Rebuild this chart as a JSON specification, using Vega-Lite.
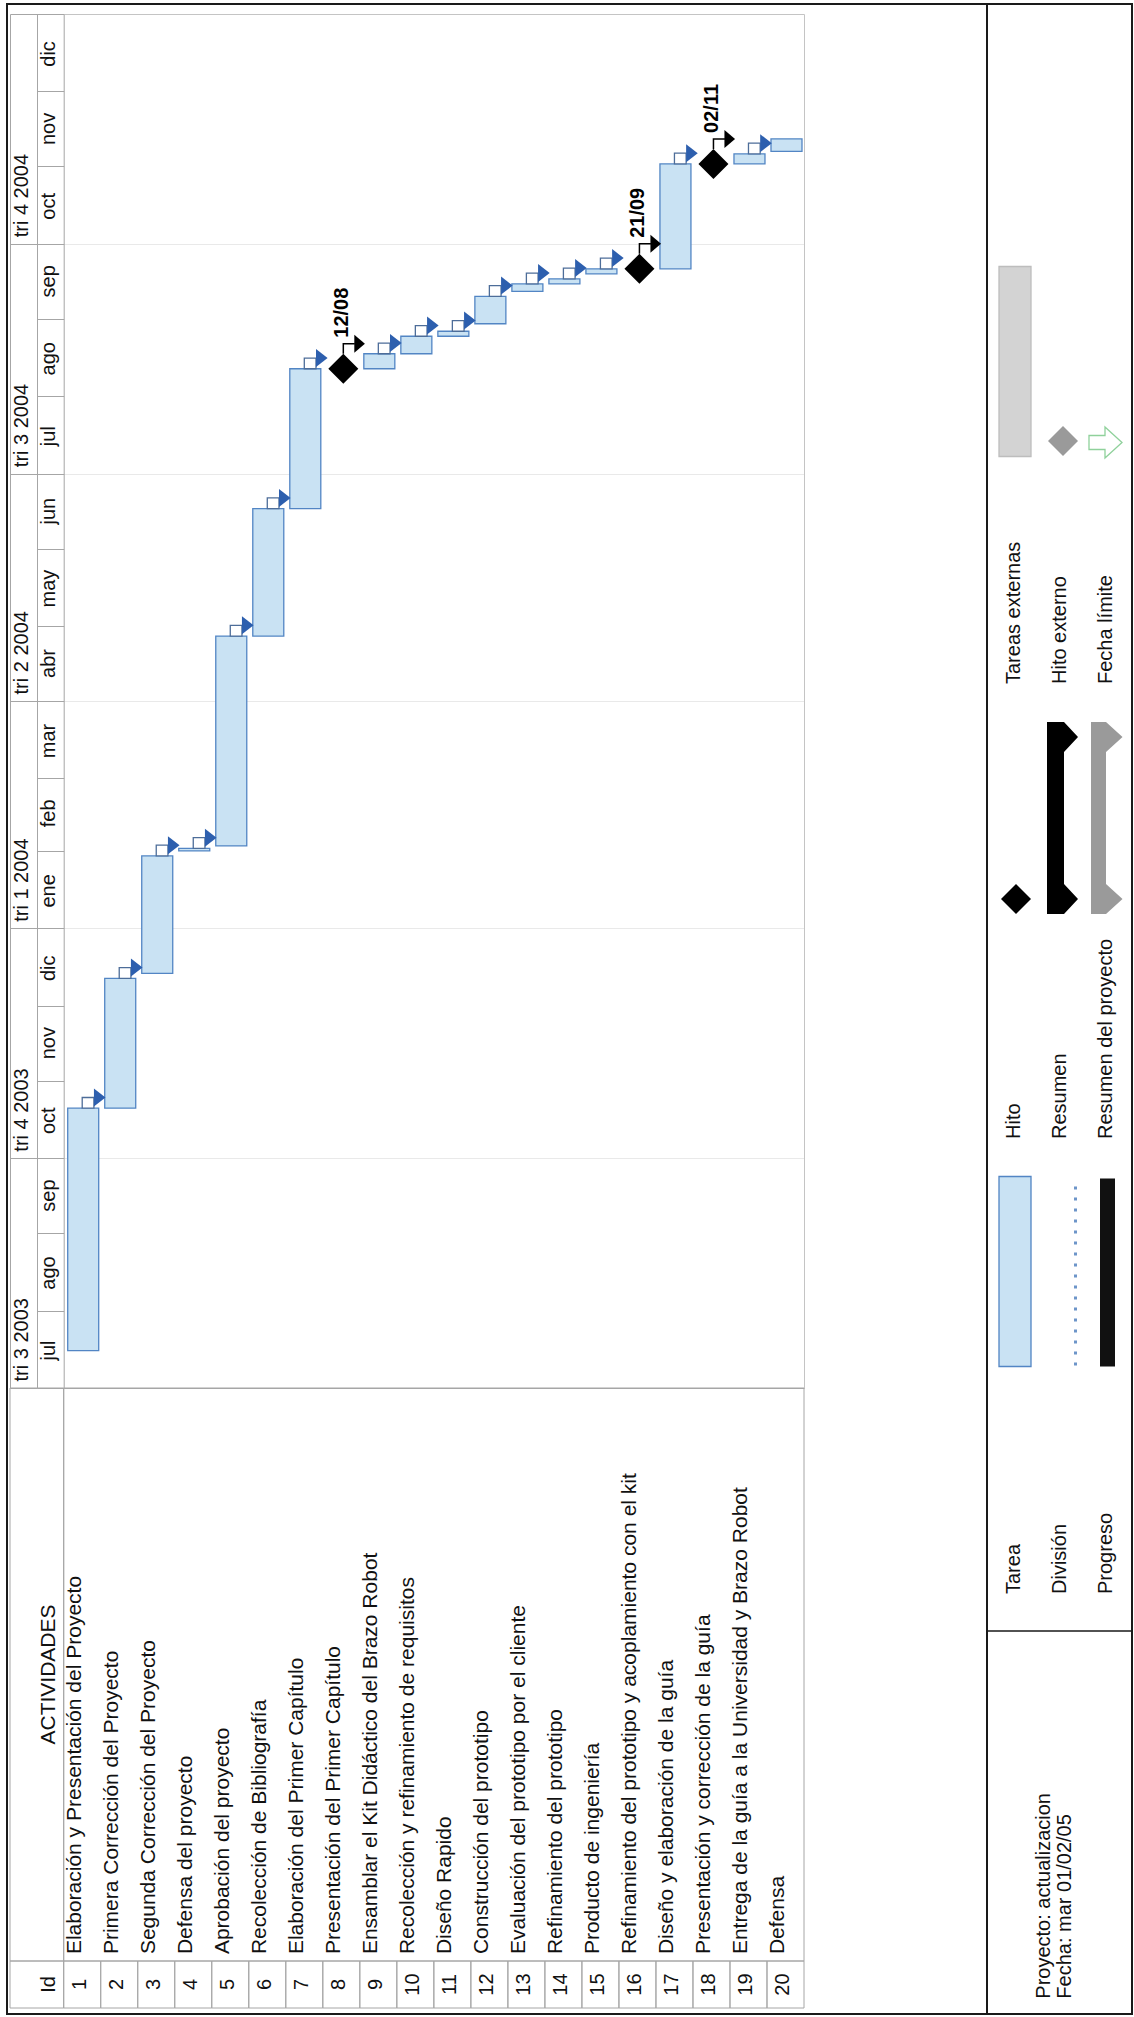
{
  "$schema": "https://vega.github.io/schema/vega-lite/v6.json",
  "padding": {"left": 6, "top": 3, "right": 3, "bottom": 4},
  "background": "white",
  "bounds": "flush",
  "spacing": 0,
  "config": {"font": "Liberation Sans"},
  "datasets": {
    "tareas": [
      {"id": 1, "nombre": "Elaboración y Presentación del Proyecto", "inicio": "2003-07-16", "fin": "2003-10-21", "tipo": "tarea"},
      {"id": 2, "nombre": "Primera Corrección del Proyecto", "inicio": "2003-10-21", "fin": "2003-12-12", "tipo": "tarea"},
      {"id": 3, "nombre": "Segunda Corrección del Proyecto", "inicio": "2003-12-14", "fin": "2004-01-30", "tipo": "tarea"},
      {"id": 4, "nombre": "Defensa del proyecto", "inicio": "2004-02-01", "fin": "2004-02-02", "tipo": "tarea"},
      {"id": 5, "nombre": "Aprobación del proyecto", "inicio": "2004-02-03", "fin": "2004-04-27", "tipo": "tarea"},
      {"id": 6, "nombre": "Recolección de Bibliografía", "inicio": "2004-04-27", "fin": "2004-06-17", "tipo": "tarea"},
      {"id": 7, "nombre": "Elaboración  del Primer Capítulo", "inicio": "2004-06-17", "fin": "2004-08-12", "tipo": "tarea"},
      {"id": 8, "nombre": "Presentación del Primer Capítulo", "inicio": "2004-08-12", "fin": "2004-08-12", "tipo": "hito"},
      {"id": 9, "nombre": "Ensamblar el Kit Didáctico del Brazo Robot", "inicio": "2004-08-12", "fin": "2004-08-18", "tipo": "tarea"},
      {"id": 10, "nombre": "Recolección y refinamiento de requisitos", "inicio": "2004-08-18", "fin": "2004-08-25", "tipo": "tarea"},
      {"id": 11, "nombre": "Diseño Rapido", "inicio": "2004-08-25", "fin": "2004-08-27", "tipo": "tarea"},
      {"id": 12, "nombre": "Construcción del prototipo", "inicio": "2004-08-30", "fin": "2004-09-10", "tipo": "tarea"},
      {"id": 13, "nombre": "Evaluación del prototipo por el cliente", "inicio": "2004-09-12", "fin": "2004-09-15", "tipo": "tarea"},
      {"id": 14, "nombre": "Refinamiento del prototipo", "inicio": "2004-09-15", "fin": "2004-09-17", "tipo": "tarea"},
      {"id": 15, "nombre": "Producto de ingeniería", "inicio": "2004-09-19", "fin": "2004-09-21", "tipo": "tarea"},
      {"id": 16, "nombre": "Refinamiento del prototipo y acoplamiento con el kit", "inicio": "2004-09-21", "fin": "2004-09-21", "tipo": "hito"},
      {"id": 17, "nombre": "Diseño y elaboración de la guía", "inicio": "2004-09-21", "fin": "2004-11-02", "tipo": "tarea"},
      {"id": 18, "nombre": "Presentación  y corrección de la guía", "inicio": "2004-11-02", "fin": "2004-11-02", "tipo": "hito"},
      {"id": 19, "nombre": "Entrega de la guía a la Universidad y Brazo Robot", "inicio": "2004-11-02", "fin": "2004-11-06", "tipo": "tarea"},
      {"id": 20, "nombre": "Defensa", "inicio": "2004-11-07", "fin": "2004-11-12", "tipo": "tarea"}
    ],
    "encabezados": [
      {"seccion": "ACTIVIDADES", "texto": "ACTIVIDADES"},
      {"seccion": "Id", "texto": "Id"}
    ],
    "leyenda": [
      {"grupo": 1, "col": 1, "etiqueta": "Tarea", "simbolo": "tarea"},
      {"grupo": 1, "col": 2, "etiqueta": "División", "simbolo": "division"},
      {"grupo": 1, "col": 3, "etiqueta": "Progreso", "simbolo": "progreso"},
      {"grupo": 2, "col": 1, "etiqueta": "Hito", "simbolo": "hito"},
      {"grupo": 2, "col": 2, "etiqueta": "Resumen", "simbolo": "resumen"},
      {"grupo": 2, "col": 3, "etiqueta": "Resumen del proyecto", "simbolo": "resumen_proyecto"},
      {"grupo": 3, "col": 1, "etiqueta": "Tareas externas", "simbolo": "tareas_externas"},
      {"grupo": 3, "col": 2, "etiqueta": "Hito externo", "simbolo": "hito_externo"},
      {"grupo": 3, "col": 3, "etiqueta": "Fecha límite", "simbolo": "fecha_limite"}
    ],
    "pie": [
      {"linea": 1, "texto": "Proyecto: actualizacion"},
      {"linea": 2, "texto": "Fecha: mar 01/02/05"}
    ]
  },
  "hconcat": [
    {
      "width": 980,
      "height": 2010,
      "view": {"stroke": "#1a1a1a", "strokeWidth": 2},
      "resolve": {"scale": {"x": "independent", "y": "independent"}},
      "layer": [
        {
          "data": {"name": "tareas"},
          "mark": {"type": "rect", "filled": false, "stroke": "#a6a6a6", "strokeWidth": 1},
          "encoding": {
            "x": {"field": "id", "type": "ordinal", "axis": null, "scale": {"type": "band", "domain": [1,2,3,4,5,6,7,8,9,10,11,12,13,14,15,16,17,18,19,20], "range": [56.7, 797], "paddingInner": 0, "paddingOuter": 0}},
            "y": {"datum": "Id", "type": "nominal", "axis": null, "scale": {"type": "band", "domain": ["Id"], "range": [1957, 2004], "paddingInner": 0, "paddingOuter": 0}}
          }
        },
        {
          "data": {"name": "encabezados"},
          "transform": [{"filter": "datum.seccion == 'ACTIVIDADES'"}],
          "mark": {"type": "rect", "filled": false, "stroke": "#a6a6a6", "strokeWidth": 1},
          "encoding": {
            "x": {"datum": "encabezado", "type": "nominal", "axis": null, "scale": {"type": "band", "domain": ["encabezado"], "range": [3, 56.7], "paddingInner": 0, "paddingOuter": 0}},
            "y": {"field": "seccion", "type": "nominal", "axis": null, "scale": {"type": "band", "domain": ["ACTIVIDADES"], "range": [1384, 1957], "paddingInner": 0, "paddingOuter": 0}}
          }
        },
        {
          "data": {"name": "encabezados"},
          "transform": [{"filter": "datum.seccion == 'ACTIVIDADES'"}],
          "mark": {"type": "rect", "filled": false, "stroke": "#a6a6a6", "strokeWidth": 1},
          "encoding": {
            "x": {"datum": "tareas", "type": "nominal", "axis": null, "scale": {"type": "band", "domain": ["tareas"], "range": [56.7, 797], "paddingInner": 0, "paddingOuter": 0}},
            "y": {"field": "seccion", "type": "nominal", "axis": null, "scale": {"type": "band", "domain": ["ACTIVIDADES"], "range": [1384, 1957], "paddingInner": 0, "paddingOuter": 0}}
          }
        },
        {
          "data": {"name": "encabezados"},
          "transform": [{"filter": "datum.seccion == 'Id'"}],
          "mark": {"type": "rect", "filled": false, "stroke": "#a6a6a6", "strokeWidth": 1},
          "encoding": {
            "x": {"datum": "encabezado", "type": "nominal", "axis": null, "scale": {"type": "band", "domain": ["encabezado"], "range": [3, 56.7], "paddingInner": 0, "paddingOuter": 0}},
            "y": {"field": "seccion", "type": "nominal", "axis": null, "scale": {"type": "band", "domain": ["Id"], "range": [1957, 2004], "paddingInner": 0, "paddingOuter": 0}}
          }
        },
        {
          "data": {"name": "encabezados"},
          "transform": [{"filter": "datum.seccion == 'ACTIVIDADES'"}],
          "mark": {"type": "text", "angle": 270, "align": "center", "baseline": "middle", "fontSize": 21, "color": "#111"},
          "encoding": {
            "x": {"datum": "encabezado", "type": "nominal", "bandPosition": 0.72, "axis": null, "scale": {"type": "band", "domain": ["encabezado"], "range": [3, 56.7], "paddingInner": 0, "paddingOuter": 0}},
            "y": {"field": "seccion", "type": "nominal", "bandPosition": 0.5, "axis": null, "scale": {"type": "band", "domain": ["ACTIVIDADES"], "range": [1384, 1957], "paddingInner": 0, "paddingOuter": 0}},
            "text": {"field": "texto"}
          }
        },
        {
          "data": {"name": "encabezados"},
          "transform": [{"filter": "datum.seccion == 'Id'"}],
          "mark": {"type": "text", "angle": 270, "align": "center", "baseline": "middle", "fontSize": 20, "color": "#111"},
          "encoding": {
            "x": {"datum": "encabezado", "type": "nominal", "bandPosition": 0.72, "axis": null, "scale": {"type": "band", "domain": ["encabezado"], "range": [3, 56.7], "paddingInner": 0, "paddingOuter": 0}},
            "y": {"field": "seccion", "type": "nominal", "bandPosition": 0.5, "axis": null, "scale": {"type": "band", "domain": ["Id"], "range": [1957, 2004], "paddingInner": 0, "paddingOuter": 0}},
            "text": {"field": "texto"}
          }
        },
        {
          "data": {"name": "tareas"},
          "mark": {"type": "text", "angle": 270, "align": "left", "baseline": "middle", "fontSize": 21, "color": "#111"},
          "encoding": {
            "x": {"field": "id", "type": "ordinal", "bandPosition": 0.31, "axis": null, "scale": {"type": "band", "domain": [1,2,3,4,5,6,7,8,9,10,11,12,13,14,15,16,17,18,19,20], "range": [56.7, 797], "paddingInner": 0, "paddingOuter": 0}},
            "y": {"datum": "ACTIVIDADES", "type": "nominal", "bandPosition": 0.988, "axis": null, "scale": {"type": "band", "domain": ["ACTIVIDADES"], "range": [1384, 1957], "paddingInner": 0, "paddingOuter": 0}},
            "text": {"field": "nombre"}
          }
        },
        {
          "data": {"name": "tareas"},
          "mark": {"type": "text", "angle": 270, "align": "center", "baseline": "middle", "fontSize": 20, "color": "#111"},
          "encoding": {
            "x": {"field": "id", "type": "ordinal", "bandPosition": 0.43, "axis": null, "scale": {"type": "band", "domain": [1,2,3,4,5,6,7,8,9,10,11,12,13,14,15,16,17,18,19,20], "range": [56.7, 797], "paddingInner": 0, "paddingOuter": 0}},
            "y": {"datum": "Id", "type": "nominal", "bandPosition": 0.5, "axis": null, "scale": {"type": "band", "domain": ["Id"], "range": [1957, 2004], "paddingInner": 0, "paddingOuter": 0}},
            "text": {"field": "id"}
          }
        },
        {
          "data": {"name": "tareas"},
          "transform": [{"filter": "datum.tipo == 'tarea'"}],
          "mark": {"type": "bar", "width": 31, "xOffset": 1, "fill": "#c9e2f3", "stroke": "#5285c4", "strokeWidth": 1.3},
          "encoding": {
            "x": {"field": "id", "type": "ordinal",
              "scale": {"type": "band", "domain": [1,2,3,4,5,6,7,8,9,10,11,12,13,14,15,16,17,18,19,20], "range": [56.7, 797], "paddingInner": 0, "paddingOuter": 0},
              "axis": {"orient": "top", "offset": -10, "title": null, "domain": true, "domainColor": "#c4c4c4", "domainWidth": 1, "ticks": false, "labels": false, "grid": false}},
            "y": {"field": "inicio", "type": "temporal",
              "scale": {"type": "utc", "nice": false, "domain": [{"year": 2003, "month": 7, "date": 1, "utc": true}, {"year": 2005, "month": 1, "date": 1, "utc": true}], "range": [1384, 10]},
              "axis": {"orient": "left", "offset": -56.7, "title": null, "grid": false,
                "values": [
                  {"year": 2003, "month": 7, "date": 1, "utc": true}, {"year": 2003, "month": 8, "date": 1, "utc": true}, {"year": 2003, "month": 9, "date": 1, "utc": true},
                  {"year": 2003, "month": 10, "date": 1, "utc": true}, {"year": 2003, "month": 11, "date": 1, "utc": true}, {"year": 2003, "month": 12, "date": 1, "utc": true},
                  {"year": 2004, "month": 1, "date": 1, "utc": true}, {"year": 2004, "month": 2, "date": 1, "utc": true}, {"year": 2004, "month": 3, "date": 1, "utc": true},
                  {"year": 2004, "month": 4, "date": 1, "utc": true}, {"year": 2004, "month": 5, "date": 1, "utc": true}, {"year": 2004, "month": 6, "date": 1, "utc": true},
                  {"year": 2004, "month": 7, "date": 1, "utc": true}, {"year": 2004, "month": 8, "date": 1, "utc": true}, {"year": 2004, "month": 9, "date": 1, "utc": true},
                  {"year": 2004, "month": 10, "date": 1, "utc": true}, {"year": 2004, "month": 11, "date": 1, "utc": true}, {"year": 2004, "month": 12, "date": 1, "utc": true}
                ],
                "tickSize": 26.7, "tickColor": "#a6a6a6", "tickWidth": 1,
                "domain": true, "domainColor": "#a6a6a6", "domainWidth": 1,
                "labelExpr": "['ene','feb','mar','abr','may','jun','jul','ago','sep','oct','nov','dic'][utcmonth(datum.value)]",
                "labelAngle": 270, "labelAlign": "center", "labelBaseline": "middle", "labelOffset": -38, "labelPadding": -11.5,
                "labelFontSize": 20, "labelFont": "Liberation Sans", "labelColor": "#111", "labelOverlap": false, "labelBound": false, "labelFlush": false}},
            "y2": {"field": "fin"}
          }
        },
        {
          "data": {"name": "tareas"},
          "transform": [{"filter": "datum.id < 20 && datum.tipo == 'tarea'"}],
          "mark": {"type": "point", "shape": "M0,0V-10.7H11.7V0Z", "size": 4, "filled": true, "fill": "#ffffff", "stroke": "#4d6d99", "strokeWidth": 1.3, "opacity": 1},
          "encoding": {
            "x": {"field": "id", "type": "ordinal", "axis": null, "scale": {"type": "band", "domain": [1,2,3,4,5,6,7,8,9,10,11,12,13,14,15,16,17,18,19,20], "range": [56.7, 797], "paddingInner": 0, "paddingOuter": 0}},
            "y": {"field": "fin", "type": "temporal",
              "scale": {"type": "utc", "nice": false, "domain": [{"year": 2003, "month": 7, "date": 1, "utc": true}, {"year": 2005, "month": 1, "date": 1, "utc": true}], "range": [1384, 10]},
              "axis": {"orient": "left", "offset": -3, "title": null, "domain": true, "domainColor": "#a6a6a6", "domainWidth": 1, "ticks": false, "labels": false, "grid": false}}
          }
        },
        {
          "data": {"name": "tareas"},
          "transform": [{"filter": "datum.id < 20 && datum.tipo == 'tarea'"}],
          "mark": {"type": "point", "shape": "M11.7,-19.7L23.3,-10.7L11.7,-1.7Z", "size": 4, "filled": true, "fill": "#2d5fae", "strokeWidth": 0, "opacity": 1},
          "encoding": {
            "x": {"field": "id", "type": "ordinal", "axis": null, "scale": {"type": "band", "domain": [1,2,3,4,5,6,7,8,9,10,11,12,13,14,15,16,17,18,19,20], "range": [56.7, 797], "paddingInner": 0, "paddingOuter": 0}},
            "y": {"field": "fin", "type": "temporal",
              "scale": {"type": "utc", "nice": false, "domain": [{"year": 2003, "month": 7, "date": 1, "utc": true}, {"year": 2005, "month": 1, "date": 1, "utc": true}], "range": [1384, 10]},
              "axis": {"orient": "left", "offset": 0, "title": null, "domain": false, "ticks": false, "labels": false, "grid": true, "gridColor": "#e9e9e9", "gridWidth": 1,
                "values": [{"year": 2003, "month": 10, "date": 1, "utc": true}, {"year": 2004, "month": 1, "date": 1, "utc": true}, {"year": 2004, "month": 4, "date": 1, "utc": true}, {"year": 2004, "month": 7, "date": 1, "utc": true}, {"year": 2004, "month": 10, "date": 1, "utc": true}]}}
          }
        },
        {
          "data": {"name": "tareas"},
          "transform": [{"filter": "datum.tipo == 'hito'"}],
          "mark": {"type": "point", "shape": "diamond", "size": 900, "filled": true, "fill": "#000000", "strokeWidth": 0, "opacity": 1, "xOffset": 2},
          "encoding": {
            "x": {"field": "id", "type": "ordinal",
              "scale": {"type": "band", "domain": [1,2,3,4,5,6,7,8,9,10,11,12,13,14,15,16,17,18,19,20], "range": [56.7, 797], "paddingInner": 0, "paddingOuter": 0},
              "axis": {"orient": "bottom", "offset": -626, "title": null, "domain": true, "domainColor": "#a6a6a6", "domainWidth": 1, "ticks": false, "labels": false, "grid": false}},
            "y": {"field": "fin", "type": "temporal",
              "scale": {"type": "utc", "nice": false, "domain": [{"year": 2003, "month": 7, "date": 1, "utc": true}, {"year": 2005, "month": 1, "date": 1, "utc": true}], "range": [1384, 10]},
              "axis": {"orient": "left", "offset": -30, "title": null, "grid": false,
                "values": [{"year": 2003, "month": 7, "date": 1, "utc": true}, {"year": 2003, "month": 10, "date": 1, "utc": true}, {"year": 2004, "month": 1, "date": 1, "utc": true}, {"year": 2004, "month": 4, "date": 1, "utc": true}, {"year": 2004, "month": 7, "date": 1, "utc": true}, {"year": 2004, "month": 10, "date": 1, "utc": true}],
                "tickSize": 27, "tickColor": "#a6a6a6", "tickWidth": 1,
                "domain": true, "domainColor": "#a6a6a6", "domainWidth": 1,
                "labelExpr": "'tri ' + utcquarter(datum.value) + ' ' + utcyear(datum.value)",
                "labelAngle": 270, "labelAlign": "left", "labelBaseline": "middle", "labelOffset": -7, "labelPadding": -11.6,
                "labelFontSize": 20, "labelFont": "Liberation Sans", "labelColor": "#111", "labelOverlap": false, "labelBound": false, "labelFlush": false}}
          }
        },
        {
          "data": {"name": "tareas"},
          "transform": [{"filter": "datum.id < 20 && datum.tipo == 'hito'"}],
          "mark": {"type": "point", "shape": "M0,-15V-25H11.5", "size": 4, "filled": false, "fill": "transparent", "stroke": "#000000", "strokeWidth": 1.5, "opacity": 1, "xOffset": 2},
          "encoding": {
            "x": {"field": "id", "type": "ordinal", "axis": null, "scale": {"type": "band", "domain": [1,2,3,4,5,6,7,8,9,10,11,12,13,14,15,16,17,18,19,20], "range": [56.7, 797], "paddingInner": 0, "paddingOuter": 0}},
            "y": {"field": "fin", "type": "temporal",
              "scale": {"type": "utc", "nice": false, "domain": [{"year": 2003, "month": 7, "date": 1, "utc": true}, {"year": 2005, "month": 1, "date": 1, "utc": true}], "range": [1384, 10]},
              "axis": {"orient": "right", "offset": -183, "title": null, "domain": true, "domainColor": "#c4c4c4", "domainWidth": 1, "ticks": false, "labels": false, "grid": false}}
          }
        },
        {
          "data": {"name": "tareas"},
          "transform": [{"filter": "datum.id < 20 && datum.tipo == 'hito'"}],
          "mark": {"type": "point", "shape": "M11,-34L21.6,-25L11,-16Z", "size": 4, "filled": true, "fill": "#000000", "strokeWidth": 0, "opacity": 1, "xOffset": 2},
          "encoding": {
            "x": {"field": "id", "type": "ordinal", "axis": null, "scale": {"type": "band", "domain": [1,2,3,4,5,6,7,8,9,10,11,12,13,14,15,16,17,18,19,20], "range": [56.7, 797], "paddingInner": 0, "paddingOuter": 0}},
            "y": {"field": "fin", "type": "temporal",
              "scale": {"type": "utc", "nice": false, "domain": [{"year": 2003, "month": 7, "date": 1, "utc": true}, {"year": 2005, "month": 1, "date": 1, "utc": true}], "range": [1384, 10]},
              "axis": {"orient": "left", "offset": -3, "title": null, "domain": false, "labels": false, "grid": false,
                "values": [{"year": 2005, "month": 1, "date": 1, "utc": true}],
                "tickSize": -53.7, "tickColor": "#a6a6a6", "tickWidth": 1}}
          }
        },
        {
          "data": {"name": "tareas"},
          "transform": [{"filter": "datum.tipo == 'hito'"}],
          "mark": {"type": "text", "angle": 270, "align": "left", "baseline": "middle", "dx": 31, "xOffset": 1, "fontSize": 20, "fontWeight": "bold", "color": "#000000"},
          "encoding": {
            "x": {"field": "id", "type": "ordinal", "axis": null, "scale": {"type": "band", "domain": [1,2,3,4,5,6,7,8,9,10,11,12,13,14,15,16,17,18,19,20], "range": [56.7, 797], "paddingInner": 0, "paddingOuter": 0}},
            "y": {"field": "fin", "type": "temporal", "axis": null,
              "scale": {"type": "utc", "nice": false, "domain": [{"year": 2003, "month": 7, "date": 1, "utc": true}, {"year": 2005, "month": 1, "date": 1, "utc": true}], "range": [1384, 10]}},
            "text": {"field": "fin", "type": "temporal", "timeUnit": "utcmonthdate", "format": "%d/%m"}
          }
        }
      ]
    },
    {
      "width": 145,
      "height": 2010,
      "view": {"stroke": "#1a1a1a", "strokeWidth": 2},
      "resolve": {"scale": {"x": "independent", "y": "independent"}},
      "layer": [
        {
          "data": {"name": "pie"},
          "transform": [{"filter": "datum.linea == 1"}],
          "mark": {"type": "rect", "filled": false, "stroke": "#1a1a1a", "strokeWidth": 1.5},
          "encoding": {
            "x": {"datum": "pie", "type": "nominal", "axis": null, "scale": {"type": "band", "domain": ["pie"], "range": [0, 145], "paddingInner": 0, "paddingOuter": 0}},
            "y": {"datum": "pie", "type": "nominal", "axis": null, "scale": {"type": "band", "domain": ["pie"], "range": [1627, 2010], "paddingInner": 0, "paddingOuter": 0}}
          }
        },
        {
          "data": {"name": "pie"},
          "mark": {"type": "text", "angle": 270, "align": "left", "baseline": "middle", "fontSize": 20, "color": "#111"},
          "encoding": {
            "x": {"field": "linea", "type": "ordinal", "axis": null, "scale": {"type": "band", "domain": [1, 2], "range": [46, 88], "paddingInner": 0, "paddingOuter": 0}},
            "y": {"datum": "pie", "type": "nominal", "bandPosition": 0.96, "axis": null, "scale": {"type": "band", "domain": ["pie"], "range": [1627, 2010], "paddingInner": 0, "paddingOuter": 0}},
            "text": {"field": "texto"}
          }
        },
        {
          "data": {"name": "leyenda"},
          "mark": {"type": "point", "size": 4, "filled": true, "strokeWidth": 1.3, "opacity": 1},
          "encoding": {
            "x": {"field": "col", "type": "ordinal", "axis": null, "scale": {"type": "band", "domain": [1, 2, 3], "range": [4, 142], "paddingInner": 0, "paddingOuter": 0}},
            "y": {"field": "grupo", "type": "ordinal", "bandPosition": 0.5, "axis": null, "scale": {"type": "band", "domain": [3, 2, 1], "range": [225, 1590], "paddingInner": 0, "paddingOuter": 0}},
            "shape": {"field": "simbolo", "type": "nominal", "legend": null,
              "scale": {"domain": ["tarea", "division", "progreso", "hito", "resumen", "resumen_proyecto", "tareas_externas", "hito_externo", "fecha_limite"],
                "range": [
                  "M-15,-190H17V0H-15Z",
                  "M14,-180h3v3h-3ZM14,-169h3v3h-3ZM14,-158h3v3h-3ZM14,-147h3v3h-3ZM14,-136h3v3h-3ZM14,-125h3v3h-3ZM14,-114h3v3h-3ZM14,-103h3v3h-3ZM14,-92h3v3h-3ZM14,-81h3v3h-3ZM14,-70h3v3h-3ZM14,-59h3v3h-3ZM14,-48h3v3h-3ZM14,-37h3v3h-3ZM14,-26h3v3h-3ZM14,-15h3v3h-3ZM14,-4h3v3h-3Z",
                  "M-6,-188H9V0H-6Z",
                  "M2,-27.5L17,-12.5L2,2.5L-13,-12.5Z",
                  "M-13,-189.5H4L18,-174.5L4,-159.5V-27.5L18,-12.5L4,2.5H-13Z",
                  "M-15,-189.5H0L16.5,-174.5L0,-159.5V-27.5L16.5,-12.5L0,2.5H-15Z",
                  "M-15,-190H17V0H-15Z",
                  "M3,-30.5L18,-15.5L3,-0.5L-12,-15.5Z",
                  "M-17,-21H-1V-29.5L16,-14L-1,1.5V-7H-17Z"
                ]}},
            "fill": {"field": "simbolo", "type": "nominal", "legend": null,
              "scale": {"domain": ["tarea", "division", "progreso", "hito", "resumen", "resumen_proyecto", "tareas_externas", "hito_externo", "fecha_limite"],
                "range": ["#c9e2f3", "#6d95c9", "#111111", "#000000", "#000000", "#9a9a9a", "#d3d3d3", "#9a9a9a", "#ffffff"]}},
            "stroke": {"field": "simbolo", "type": "nominal", "legend": null,
              "scale": {"domain": ["tarea", "division", "progreso", "hito", "resumen", "resumen_proyecto", "tareas_externas", "hito_externo", "fecha_limite"],
                "range": ["#5285c4", "transparent", "transparent", "transparent", "transparent", "transparent", "#bdbdbd", "transparent", "#8fd19b"]}}
          }
        },
        {
          "data": {"name": "leyenda"},
          "mark": {"type": "text", "angle": 270, "align": "left", "baseline": "middle", "fontSize": 20, "color": "#111"},
          "encoding": {
            "x": {"field": "col", "type": "ordinal", "axis": null, "scale": {"type": "band", "domain": [1, 2, 3], "range": [4, 142], "paddingInner": 0, "paddingOuter": 0}},
            "y": {"field": "grupo", "type": "ordinal", "bandPosition": 1, "axis": null, "scale": {"type": "band", "domain": [3, 2, 1], "range": [225, 1590], "paddingInner": 0, "paddingOuter": 0}},
            "text": {"field": "etiqueta"}
          }
        }
      ]
    }
  ]
}
